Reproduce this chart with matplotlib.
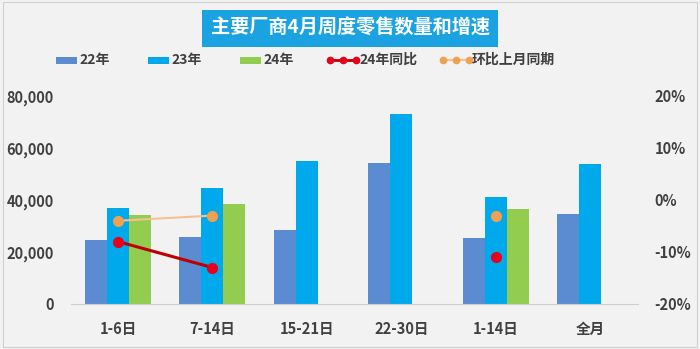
import numpy as np
import matplotlib.pyplot as plt
from matplotlib.lines import Line2D
from matplotlib.patches import Rectangle

plt.rcParams['font.family'] = ['Noto Sans CJK SC', 'DejaVu Sans']

categories = ['1-6日', '7-14日', '15-21日', '22-30日', '1-14日', '全月']
sales_22 = [24600, 25800, 28500, 54400, 25300, 34700]
sales_23 = [37000, 44500, 54900, 73100, 41300, 53800]
sales_24 = [34100, 38600, np.nan, np.nan, 36700, np.nan]
yoy_24 = [-8.0, -13.0, np.nan, np.nan, -11.0, np.nan]
mom_same = [-4.0, -3.0, np.nan, np.nan, -3.0, np.nan]
left_ticks = [0, 20000, 40000, 60000, 80000]
right_ticks = [-20, -10, 0, 10, 20]
legend_labels = ['22年', '23年', '24年', '24年同比', '环比上月同期']

bg = '#F2F2F2'
c22, c23, c24 = '#5B8BD0', '#00A9EC', '#92CD4F'
c_yoy, c_yoy_line, c_mom, c_mom_line = '#E8001C', '#C00000', '#F0A050', '#F8C090'
txt = '#404040'

W, H = 700, 349
fig = plt.figure(figsize=(W / 100, H / 100), dpi=100, facecolor=bg)
fig.patches.append(Rectangle((0.004, 0.006), 0.992, 0.988, transform=fig.transFigure,
                             fill=False, edgecolor='#D0D0D0', linewidth=0.8))
ax = fig.add_axes([0.101, 0.129, 0.81, 0.596], facecolor=bg)
ax2 = ax.twinx()

x = np.arange(len(categories))
w = 0.233
ax.bar(x - w, sales_22, w, color=c22, zorder=2)
ax.bar(x, sales_23, w, color=c23, zorder=2)
ax.bar(x + w, sales_24, w, color=c24, zorder=2)

ax2.plot(x[:2], mom_same[:2], color=c_mom_line, lw=1.5, zorder=3)
ax2.plot(x, mom_same, 'o', color=c_mom, ms=7, zorder=4)
ax2.plot(x[:2], yoy_24[:2], color=c_yoy_line, lw=2.2, zorder=3)
ax2.plot(x, yoy_24, 'o', color=c_yoy, ms=7, zorder=4)

ax.set_xlim(-0.5, len(categories) - 0.5)
ax.set_ylim(0, 80000)
ax2.set_ylim(-20, 20)
ax.set_yticks(left_ticks)
ax.set_yticklabels([f'{v:,}' for v in left_ticks])
ax2.set_yticks(right_ticks)
ax2.set_yticklabels([f'{v}%' for v in right_ticks])
ax.set_xticks(x)
ax.set_xticklabels(categories)

for a in (ax, ax2):
    for s in a.spines.values():
        s.set_visible(False)
    a.tick_params(length=0, labelsize=10.5, colors=txt)
    for lab in a.get_xticklabels() + a.get_yticklabels():
        lab.set_fontweight('bold')
ax.spines['bottom'].set_visible(True)
ax.spines['bottom'].set_color('#D0D0D0')
ax.tick_params(axis='x', pad=12)
ax.tick_params(axis='y', pad=12)
ax2.tick_params(axis='y', pad=12)


def fx(px):
    return px / W


def fy(py):
    return 1 - py / H


# title box
fig.patches.append(Rectangle((fx(202), fy(47)), fx(498) - fx(202), fy(10) - fy(47),
                             transform=fig.transFigure, facecolor='#1AA3E0',
                             edgecolor='none'))
fig.text(fx(350), fy(28.5), '主要厂商4月周度零售数量和增速', ha='center', va='center',
         fontsize=13.8, fontweight='bold', color='white')

# legend row
ly = 60
for x0, col, lab in [(56, c22, legend_labels[0]), (148, c23, legend_labels[1]),
                     (240, c24, legend_labels[2])]:
    fig.patches.append(Rectangle((fx(x0), fy(ly + 3.5)), fx(21), 7 / H,
                                 transform=fig.transFigure, facecolor=col, edgecolor='none'))
    fig.text(fx(x0 + 23), fy(ly), lab, ha='left', va='center', fontsize=10,
             fontweight='bold', color=txt)
for x0, lcol, mcol, lw, lab in [(330, c_yoy_line, c_yoy, 2.0, legend_labels[3]),
                                (443, c_mom_line, c_mom, 1.5, legend_labels[4])]:
    xs = [fx(x0), fx(x0 + 13), fx(x0 + 26)]
    fig.lines.append(Line2D(xs, [fy(ly)] * 3, transform=fig.transFigure, color=lcol,
                            lw=lw, marker='o', ms=4.5, markerfacecolor=mcol,
                            markeredgecolor=mcol))
    fig.text(fx(x0 + 29), fy(ly), lab, ha='left', va='center', fontsize=10,
             fontweight='bold', color=txt)

fig.savefig('out.png', dpi=100, facecolor=bg)
